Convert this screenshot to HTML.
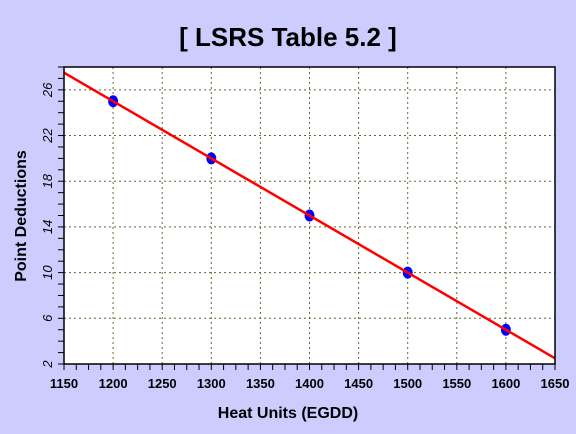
<!DOCTYPE html>
<html><head><meta charset="utf-8"><style>
html,body{margin:0;padding:0;background:#ccccff;}
svg{display:block;font-family:"Liberation Sans",sans-serif;}
</style></head><body>
<svg id="chart" width="576" height="434">
<rect x="0" y="0" width="576" height="434" fill="#ccccff"/>
<text x="288" y="46" text-anchor="middle" font-size="26" font-weight="bold">[ LSRS Table 5.2 ]</text>
<rect x="64" y="67" width="491" height="297" fill="#ffffff"/>
<g id="grid"></g>
<g id="marks"></g>
<rect x="64" y="67" width="491" height="297" fill="none" stroke="#000" stroke-width="1.5"/>
<g id="axes"></g>
<text x="288" y="418" text-anchor="middle" font-size="16" font-weight="bold">Heat Units (EGDD)</text>
<text transform="translate(26,216) rotate(-90)" text-anchor="middle" font-size="16" font-weight="bold">Point Deductions</text>
</svg>
<script>
const xTicks=[1150,1200,1250,1300,1350,1400,1450,1500,1550,1600,1650];
const yTicks=[2,6,10,14,18,22,26];
const pointX=[1200,1300,1400,1500,1600];
const pointY=[25,20,15,10,5];
const lineX=[1150,1650];
const lineY=[27.5,2.5];
const NS="http://www.w3.org/2000/svg";
const X0=64,X1=555,Y0=364,Y1=67,xmin=1150,xmax=1650,ymin=2,ymax=28;
const sx=v=>X0+(v-xmin)/(xmax-xmin)*(X1-X0);
const sy=v=>Y0-(v-ymin)/(ymax-ymin)*(Y0-Y1);
function mk(t,a,p){const e=document.createElementNS(NS,t);for(const k in a)e.setAttribute(k,a[k]);p.appendChild(e);return e;}
const grid=document.getElementById('grid'),marks=document.getElementById('marks'),axes=document.getElementById('axes');
xTicks.forEach(v=>{
  if(v>xmin&&v<xmax){const l=mk('line',{x1:sx(v),x2:sx(v),y1:Y1,y2:Y0,stroke:'#666633','stroke-dasharray':'2,3'},grid);
  
  }
  const t=mk('text',{x:sx(v),y:388,'text-anchor':'middle','font-size':13,'font-weight':'bold'},axes);
  t.textContent=v;
  
  
});
for(let v=xmin;v<=xmax;v+=12.5){const l=mk('line',{x1:sx(v),x2:sx(v),y1:Y0,y2:Y0+6,stroke:'#000'},axes);
  
  }
yTicks.forEach(v=>{
  if(v>ymin){const l=mk('line',{x1:X0,x2:X1,y1:sy(v),y2:sy(v),stroke:'#666633','stroke-dasharray':'2,3'},grid);
  
  }
  const t=mk('text',{transform:`translate(52,${sy(v)}) rotate(-90)`,'text-anchor':'middle','font-size':13,'font-style':'italic'},axes);
  t.textContent=v;
  
  
});
for(let v=ymin;v<=ymax;v+=1){const l=mk('line',{x1:X0-6,x2:X0,y1:sy(v),y2:sy(v),stroke:'#000'},axes);
  
  }
pointX.forEach((v,i)=>{const c=mk('ellipse',{cx:sx(v),cy:sy(pointY[i]),rx:5,ry:6,fill:'#0000ff'},marks);
  
  });
const ln=mk('line',{x1:sx(lineX[0]),y1:sy(lineY[0]),x2:sx(lineX[1]),y2:sy(lineY[1]),stroke:'#ff0000','stroke-width':2.5},marks);


</script>
</body></html>
